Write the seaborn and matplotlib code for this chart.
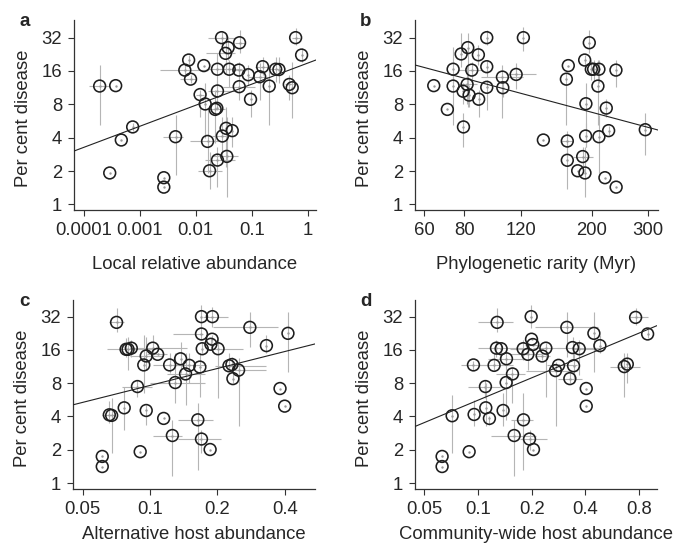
import numpy as np
import matplotlib
matplotlib.use("Agg")
import matplotlib.pyplot as plt
import seaborn as sns

nan = np.nan

# --- panel a: local relative abundance ---
x_a = [1.93e-4, 3.73e-4, 2.92e-4, 4.7e-4, 7.5e-4, 2.7e-3, 2.7e-3, 4.37e-3, 6.4e-3, 7.5e-3,
       8.1e-3, 0.0120, 0.0140, 0.0148, 0.0163, 0.0177, 0.0223, 0.0239, 0.0245, 0.0245,
       0.0245, 0.029, 0.030, 0.0342, 0.038, 0.035, 0.036, 0.0397, 0.045, 0.0608,
       0.0591, 0.060, 0.0869, 0.0955, 0.139, 0.157, 0.206, 0.268, 0.307, 0.47,
       0.53, 0.61, 0.78]
y_a = [11.7, 11.8, 1.92, 3.81, 5.0, 1.74, 1.43, 4.08, 16.3, 20.1,
       13.5, 9.8, 17.9, 8.06, 3.7, 2.01, 7.2, 7.37, 16.6, 10.56,
       2.51, 32, 4.14, 23.1, 26, 4.86, 2.71, 16.6, 4.63, 28.8,
       16.3, 11.55, 14.8, 8.88, 14.2, 17.5, 11.7, 16.6, 16.5, 12.1,
       11.3, 32, 22.3]
xlo_a = [1.25e-4, nan, nan, nan, nan, nan, nan, 2.62e-3, 2.29e-3, nan,
         5.2e-3, 0.0103, nan, nan, 7.87e-3, 0.011, 0.0156, nan, 0.0156, 0.0167,
         0.0146, 0.0167, 0.0192, 0.0156, nan, nan, 0.0192, 0.0252, nan, 0.0502,
         0.0437, 0.031, nan, nan, 0.0869, 0.114, nan, 0.198, nan, 0.394,
         nan, 0.518, nan]
xhi_a = [2.92e-4, nan, nan, nan, nan, nan, nan, 5.97e-3, 0.0167, nan,
         0.0103, 0.014, nan, nan, 0.0252, 0.029, 0.033, nan, 0.0502, 0.0502,
         0.0502, 0.0502, 0.0502, 0.0502, nan, nan, 0.0576, 0.066, nan, 0.0757,
         0.081, 0.114, nan, nan, 0.198, 0.198, nan, 0.343, nan, 0.555,
         nan, 0.73, nan]
ylo_a = [5.2, nan, nan, nan, 4.6, nan, nan, 1.84, 14.5, 18.1,
         12.4, 6.19, nan, 4.0, 1.91, 1.39, 3.56, nan, 11.55, 7.1,
         1.44, 27.5, 2.69, 15.2, 20.1, 2.19, 1.17, 11.55, 3.32, 23.1,
         13.3, 8.75, 12.0, 6.19, 8.75, 14.7, 5.21, 12.8, 12.4, 8.75,
         5.98, 27.5, 19.4]
yhi_a = [18.1, nan, nan, nan, 5.4, nan, nan, 6.41, 18.1, 22.3,
         14.7, 10.8, nan, 12.4, 7.11, 3.0, 10.8, nan, 23.1, 13.3,
         3.3, 36.3, 6.19, 35.0, 32.7, 7.6, 6.2, 20.1, 6.2, 37.5,
         19.4, 14.7, 18.1, 10.8, 18.8, 21.6, 18.1, 21.6, 21.6, 14.7,
         19.4, 38.9, 25.6]
fit_a = (4.236, 0.632)   # log2(disease) = a + b * log10(x)

# --- panel b: phylogenetic rarity ---
x_b = [64.3, 70.9, 73.9, 73.9, 78.3, 79.4, 79.6, 81.7, 82.1, 82.9,
       84.5, 88.8, 88.6, 94.1, 94.1, 94.1, 105.3, 105.6, 116.2, 122.4,
       141.3, 166.7, 167.8, 167.8, 169.0, 180.8, 187.4, 190.5, 190.1, 191.4,
       191.8, 196.5, 199.4, 202.7, 209.1, 210.6, 210.6, 219.9, 222.0, 225.8,
       238.0, 238.3, 293.8]
y_b = [11.8, 7.2, 16.6, 11.7, 22.8, 10.5, 5.0, 12.1, 26.0, 9.7,
       16.3, 8.9, 22.4, 32, 17.5, 11.4, 14.1, 11.3, 14.9, 32,
       3.81, 13.5, 3.73, 2.5, 17.9, 2.01, 2.7, 1.92, 20.1, 4.14,
       8.1, 28.8, 16.6, 16.6, 11.7, 16.6, 4.08, 1.74, 7.4, 4.63,
       16.3, 1.43, 4.72]
xlo_b = [nan, nan, nan, nan, nan, nan, nan, 76.6, nan, nan,
         76.6, nan, nan, nan, nan, nan, 90.5, nan, 108.3, nan,
         nan, nan, 160.8, nan, nan, nan, 174.8, nan, nan, nan,
         nan, nan, nan, nan, nan, nan, nan, nan, nan, nan,
         nan, nan, nan]
xhi_b = [nan, nan, nan, nan, nan, nan, nan, 88.0, nan, nan,
         91.6, nan, nan, nan, nan, nan, 122.1, nan, 134.4, nan,
         nan, nan, 174.8, nan, nan, nan, 202.0, nan, nan, nan,
         nan, nan, nan, nan, nan, nan, nan, nan, nan, nan,
         nan, nan, nan]
ylo_b = [nan, nan, 12.4, 5.21, 17.5, 8.0, 3.32, 8.0, 7.6, 7.6,
         13.3, 6.19, 18.1, 27.5, 14.2, 7.1, 5.98, 9.4, 11.0, 24.2,
         nan, 5.2, 2.69, 1.39, nan, nan, 2.2, 1.17, 18.1, 3.3,
         3.32, 23.1, 13.3, 13.3, 5.21, 12.4, 1.91, nan, 6.1, 4.2,
         11.55, nan, 2.8]
yhi_b = [nan, nan, 26.5, 14.7, 35.0, 12.4, 6.63, 17.5, 35.0, 12.0,
         19.4, 10.8, 27.5, 37.5, 20.1, 13.3, 18.1, 13.0, 18.8, 40.0,
         nan, 15.2, 4.6, 3.56, nan, nan, 3.3, 3.3, 22.3, 5.4,
         12.4, 37.5, 20.1, 20.1, 20.1, 20.1, 6.41, nan, 8.9, 5.1,
         20.1, nan, 6.63]
fit_b = (8.682, -2.573)

# --- panel c: alternative host abundance ---
x_c = [0.0708, 0.0611, 0.0611, 0.0657, 0.0673, 0.0766, 0.0781, 0.0797, 0.0824, 0.0878,
       0.0903, 0.0937, 0.0961, 0.0961, 0.1028, 0.1081, 0.1150, 0.1223, 0.1258, 0.1296,
       0.1369, 0.1441, 0.1497, 0.1635, 0.1670, 0.1698, 0.1698, 0.1711, 0.1698, 0.1856,
       0.1894, 0.1900, 0.1870, 0.2014, 0.2254, 0.2323, 0.2347, 0.2488, 0.2795, 0.3315,
       0.3813, 0.4000, 0.4138]
y_c = [28.4, 1.74, 1.41, 4.14, 4.09, 4.79, 16.2, 16.2, 16.6, 7.46,
       1.92, 11.7, 14.1, 4.53, 16.6, 14.6, 3.84, 11.7, 2.69, 8.11,
       13.3, 9.7, 11.6, 3.73, 11.2, 32, 22.3, 16.4, 2.5, 2.01,
       20.0, 32, 18.0, 16.4, 11.5, 11.8, 8.8, 10.5, 25.6, 17.5,
       7.16, 4.96, 22.6]
xlo_c = [0.0652, nan, nan, 0.061, nan, nan, 0.0642, nan, nan, 0.0748,
         nan, nan, 0.0815, nan, 0.0815, 0.0967, nan, 0.1035, 0.1035, 0.100,
         nan, 0.1186, 0.127, 0.1337, nan, nan, 0.127, nan, 0.1337, nan,
         nan, 0.1727, nan, 0.1913, 0.1946, nan, nan, 0.2268, 0.1913, nan,
         nan, nan, nan]
xhi_c = [0.0761, nan, nan, 0.0699, nan, nan, 0.1035, nan, nan, 0.1017,
         nan, nan, 0.1146, nan, 0.1456, 0.1186, nan, 0.1613, 0.1383, 0.1755,
         nan, 0.1755, 0.1787, 0.1913, nan, nan, 0.1727, nan, 0.2083, nan,
         nan, 0.2231, nan, 0.2601, 0.3304, nan, nan, 0.3304, 0.3724, nan,
         nan, nan, nan]
ylo_c = [23.4, nan, nan, 3.5, 1.87, 3.03, 13.9, 10.6, 13.9, 6.06,
         nan, 6.5, 10.6, 3.36, 13.9, nan, nan, 9.85, 1.15, 5.28,
         9.85, 5.1, 8.0, 1.32, 6.06, 25.1, 19.7, 14.9, 1.87, nan,
         18.4, 26.0, 17.0, 5.86, 10.6, 10.6, 8.0, 3.25, 17.1, 14.9,
         nan, nan, 10.2]
yhi_c = [38.1, nan, nan, 5.5, 5.86, 7.46, 20.4, 21.1, 19.7, 8.6,
         nan, 21.9, 21.1, 5.1, 21.9, nan, nan, 14.9, 3.73, 14.9,
         19.0, 14.9, 14.9, 5.28, 14.9, 40.8, 26.0, 19.0, 3.03, nan,
         21.9, 39.4, 20.0, 19.7, 14.9, 13.9, 9.85, 13.45, 35.5, 21.9,
         nan, nan, 35.5]
fit_c = (4.623, 1.690)

# --- panel d: community-wide host abundance ---
x_d = [0.0631, 0.0631, 0.0718, 0.0894, 0.0945, 0.0953, 0.1103, 0.1108, 0.1161, 0.1233,
       0.1271, 0.1282, 0.1350, 0.1385, 0.1446, 0.1440, 0.1563, 0.1597, 0.1793, 0.1801,
       0.1904, 0.1946, 0.1988, 0.1997, 0.2031, 0.2048, 0.2291, 0.2402, 0.2721, 0.2828,
       0.3149, 0.3273, 0.3388, 0.3432, 0.3692, 0.4042, 0.4042, 0.4461, 0.4820, 0.6599,
       0.6860, 0.7636, 0.8914]
y_d = [1.74, 1.41, 4.06, 1.92, 11.7, 4.17, 7.46, 4.79, 3.84, 11.6,
       16.6, 28.4, 16.4, 4.53, 13.3, 8.11, 9.7, 2.69, 16.4, 3.73,
       14.6, 2.5, 32, 20.0, 17.9, 2.01, 14.1, 16.6, 10.4, 11.6,
       25.6, 8.8, 16.8, 11.5, 16.4, 7.16, 4.96, 22.6, 17.5, 11.3,
       11.9, 31.5, 22.3]
xlo_d = [nan, nan, nan, nan, 0.0809, nan, 0.0882, nan, nan, 0.1025,
         0.1003, 0.1003, nan, nan, 0.1141, nan, 0.1271, 0.1191, 0.1509, 0.1543,
         0.1509, 0.1717, nan, nan, 0.1832, nan, 0.2084, 0.2040, 0.1872, 0.2423,
         0.2084, 0.2816, 0.2756, nan, 0.3417, nan, nan, nan, nan, 0.5484,
         nan, 0.7099, nan]
xhi_d = [nan, nan, nan, nan, 0.1117, nan, 0.1327, nan, nan, 0.1576,
         0.1793, 0.1576, nan, nan, 0.1832, nan, 0.1832, 0.2129, 0.2129, 0.2040,
         0.2321, 0.2423, nan, nan, 0.2223, nan, 0.2529, 0.2877, 0.3567, 0.3567,
         0.4718, 0.3805, 0.5032, nan, 0.4617, nan, nan, nan, nan, 0.8076,
         nan, 0.8991, nan]
ylo_d = [nan, nan, 1.87, nan, 10.6, 3.25, 5.86, 3.25, 3.36, 10.6,
         13.9, 23.4, 13.45, 3.25, 10.6, 3.73, 5.28, 1.15, 13.0, 1.32,
         10.6, 2.0, 25.1, nan, nan, nan, 13.0, 6.06, 3.25, nan,
         13.9, 8.0, 13.0, 8.0, 9.5, nan, nan, 10.2, 14.9, 6.06,
         8.0, 27.0, 20.4]
yhi_d = [nan, nan, 6.27, nan, 12.8, 5.66, 8.6, 8.0, 4.0, 14.9,
         19.7, 38.1, 18.5, 6.5, 16.6, 9.85, 11.3, 3.73, 19.7, 6.5,
         16.6, 3.03, 40.8, nan, nan, nan, 15.3, 18.4, 12.5, nan,
         35.5, 9.85, 21.1, 14.9, 19.7, nan, nan, 35.5, 21.9, 14.9,
         14.9, 38.1, 24.5]
fit_d = (4.724, 2.2375)

y_ticks = [1, 2, 4, 8, 16, 32]
panels = [
    dict(letter="a", x=x_a, y=y_a, xlo=xlo_a, xhi=xhi_a, ylo=ylo_a, yhi=yhi_a, fit=fit_a,
         xlim=(6.72e-5, 1.41), ylim=(0.889, 46.2),
         xticks=[1e-4, 1e-3, 1e-2, 0.1, 1], xticklabels=["0.0001", "0.001", "0.01", "0.1", "1"],
         xlabel="Local relative abundance", box=(74, 20, 316, 210), xlab_y=-0.24),
    dict(letter="b", x=x_b, y=y_b, xlo=xlo_b, xhi=xhi_b, ylo=ylo_b, yhi=yhi_b, fit=fit_b,
         xlim=(56.2, 321.9), ylim=(0.889, 46.2),
         xticks=[60, 80, 120, 200, 300], xticklabels=["60", "80", "120", "200", "300"],
         xlabel="Phylogenetic rarity (Myr)", box=(415, 20, 658, 210), xlab_y=-0.24),
    dict(letter="c", x=x_c, y=y_c, xlo=xlo_c, xhi=xhi_c, ylo=ylo_c, yhi=yhi_c, fit=fit_c,
         xlim=(0.0452, 0.5467), ylim=(0.883, 45.25),
         xticks=[0.05, 0.1, 0.2, 0.4], xticklabels=["0.05", "0.1", "0.2", "0.4"],
         xlabel="Alternative host abundance", box=(73, 300, 315, 489), xlab_y=-0.198),
    dict(letter="d", x=x_d, y=y_d, xlo=xlo_d, xhi=xhi_d, ylo=ylo_d, yhi=yhi_d, fit=fit_d,
         xlim=(0.0445, 1.006), ylim=(0.883, 45.25),
         xticks=[0.05, 0.1, 0.2, 0.4, 0.8], xticklabels=["0.05", "0.1", "0.2", "0.4", "0.8"],
         xlabel="Community-wide host abundance", box=(415, 300, 657, 489), xlab_y=-0.198),
]

sns.set_style("ticks")
plt.rcParams["font.family"] = ["Liberation Sans", "DejaVu Sans"]
fs = 13.3

W, H = 686, 546
fig = plt.figure(figsize=(W / 100, H / 100), dpi=100)
err_col = "#b5b5b5"
edge_col = "#1e1e1e"

for p in panels:
    l, t, r, b = p["box"]
    ax = fig.add_axes([l / W, 1 - b / H, (r - l) / W, (b - t) / H])
    ax.set_xscale("log")
    ax.set_yscale("log")

    x = np.array(p["x"]); y = np.array(p["y"])
    xlo = np.array(p["xlo"]); xhi = np.array(p["xhi"])
    ylo = np.array(p["ylo"]); yhi = np.array(p["yhi"])

    # grey confidence bars behind the open circles
    mx = ~np.isnan(xlo)
    ax.hlines(y[mx], xlo[mx], xhi[mx], color=err_col, lw=0.8, zorder=1)
    my = ~np.isnan(ylo)
    ax.vlines(x[my], ylo[my], yhi[my], color=err_col, lw=0.8, zorder=1)

    sns.scatterplot(x=x, y=y, ax=ax, s=3, color="#999999", linewidth=0, zorder=2)
    sns.scatterplot(x=x, y=y, ax=ax, s=72, marker="o", facecolor="none",
                    edgecolor=edge_col, linewidth=1.15, zorder=3)

    a0, b0 = p["fit"]
    xs = np.geomspace(p["xlim"][0], p["xlim"][1], 100)
    ax.plot(xs, 2 ** (a0 + b0 * np.log10(xs)), color="#222222", lw=0.8, zorder=4)

    ax.set_xlim(*p["xlim"]); ax.set_ylim(*p["ylim"])
    ax.set_xticks(p["xticks"]); ax.set_xticklabels(p["xticklabels"])
    ax.set_yticks(y_ticks); ax.set_yticklabels([str(v) for v in y_ticks])
    ax.minorticks_off()
    ax.tick_params(length=4.5, width=0.8, color="#333333", pad=4, labelsize=fs)
    for s in ["left", "bottom"]:
        ax.spines[s].set_linewidth(0.9)
        ax.spines[s].set_color("#333333")
    sns.despine(ax=ax)

    ax.set_ylabel("Per cent disease", fontsize=fs)
    ax.yaxis.set_label_coords(-0.172, 0.48)
    ax.set_xlabel(p["xlabel"], fontsize=fs)
    ax.xaxis.set_label_coords(0.5, p["xlab_y"])

    fig.text((l - 49) / W, 1 - (t + 1) / H, p["letter"], fontsize=13.5, fontweight="bold",
             ha="center", va="center")

fig.savefig("out.png", dpi=100)
